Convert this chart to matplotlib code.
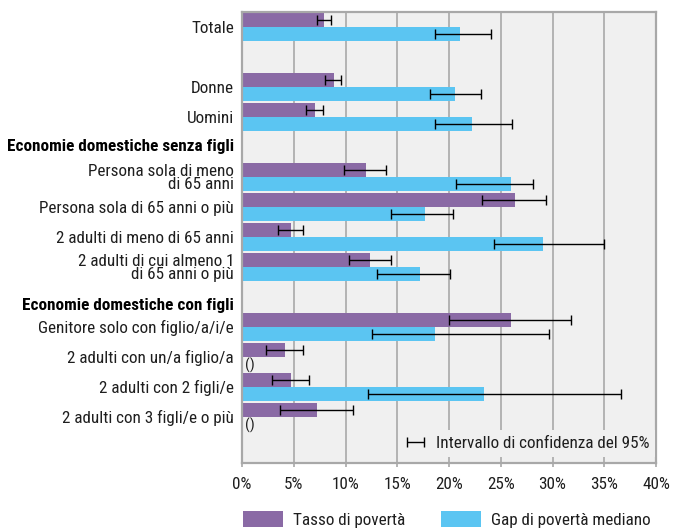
import numpy as np
import matplotlib
matplotlib.use("Agg")
import matplotlib.pyplot as plt
import matplotlib.transforms as mtransforms
from matplotlib import font_manager

# prefer a condensed face when one is installed
names = {f.name for f in font_manager.fontManager.ttflist}
family = [n for n in ["Roboto Condensed", "Liberation Sans Narrow", "Open Sans Condensed",
                      "Liberation Sans"] if n in names]
plt.rcParams['font.family'] = family + ['DejaVu Sans']

labels = ["Totale", "Donne", "Uomini",
          "Persona sola di meno\ndi 65 anni", "Persona sola di 65 anni o più",
          "2 adulti di meno di 65 anni", "2 adulti di cui almeno 1\ndi 65 anni o più",
          "Genitore solo con figlio/a/i/e", "2 adulti con un/a figlio/a",
          "2 adulti con 2 figli/e", "2 adulti con 3 figli/e o più"]
headers = ["Economie domestiche senza figli", "Economie domestiche con figli"]

tasso = [7.9, 8.9, 7.05, 12.0, 26.4, 4.7, 12.4, 26.0, 4.15, 4.7, 7.25]
tasso_lo = [7.2, 8.0, 6.2, 9.9, 23.2, 3.5, 10.3, 20.0, 2.3, 2.9, 3.7]
tasso_hi = [8.6, 9.6, 7.8, 13.9, 29.4, 5.9, 14.4, 31.8, 5.9, 6.5, 10.75]

gap = [21.1, 20.6, 22.2, 26.0, 17.7, 29.05, 17.2, 18.6, None, 23.4, None]
gap_lo = [18.6, 18.2, 18.6, 20.7, 14.4, 24.3, 13.0, 12.6, None, 12.2, None]
gap_hi = [24.1, 23.1, 26.1, 28.1, 20.4, 35.0, 20.1, 29.7, None, 36.6, None]

purple = "#8a6aa5"
blue = "#5bc5f2"
grid_col = "#a8a8a8"
txt_col = "#1e1e1e"
fs = 12.3

# row slots (1 slot = one pair of bars); gaps hold the section headers
slots = np.array([0, 2, 3, 5, 6, 7, 8, 10, 11, 12, 13])
header_y = [4.45, 9.75]
bh = 0.467
y_p = slots + bh / 2
y_b = slots + bh * 1.5

fig = plt.figure(figsize=(6.74, 5.29), dpi=100)
ax = fig.add_axes([242 / 674, 1 - 463 / 529, 414 / 674, 451 / 529])
ax.set_facecolor("#f0f0f0")

tasso = np.array(tasso, dtype=float)
gap_v = np.array([np.nan if v is None else v for v in gap])
gap_l = np.array([np.nan if v is None else v for v in gap_lo])
gap_h = np.array([np.nan if v is None else v for v in gap_hi])
ok = ~np.isnan(gap_v)

ax.barh(y_p, tasso, height=bh, color=purple, zorder=2, label="Tasso di povertà")
ax.barh(y_b[ok], gap_v[ok], height=bh, color=blue, zorder=2, label="Gap di povertà mediano")

ekw = dict(fmt="none", ecolor="black", elinewidth=1.0, capsize=3.5, capthick=1.0, zorder=3)
eb = ax.errorbar(tasso, y_p, xerr=[tasso - np.array(tasso_lo), np.array(tasso_hi) - tasso], **ekw)
ax.errorbar(gap_v[ok], y_b[ok], xerr=[gap_v[ok] - gap_l[ok], gap_h[ok] - gap_v[ok]], **ekw)

# missing values
for yy in y_b[~ok]:
    ax.text(0.3, yy + 0.05, "()", ha="left", va="center", fontsize=11, color=txt_col, zorder=4)

ax.set_xlim(0, 40)
ax.set_ylim(15.0, -1 / 30)
ax.set_xticks(np.arange(0, 41, 5))
ax.set_xticklabels([f"{v}%" for v in range(0, 41, 5)])
ax.set_yticks([])
ax.tick_params(axis="x", length=3, color=grid_col, width=1.2, labelsize=fs, labelcolor=txt_col, pad=7)
ax.grid(axis="x", color=grid_col, linewidth=1.2, zorder=1)
ax.set_axisbelow(True)
for s in ax.spines.values():
    s.set_color(grid_col)
    s.set_linewidth(1.6)

# row labels right-aligned left of the plot area
trans = mtransforms.blended_transform_factory(ax.transAxes, ax.transData)
lx = -8 / 414
for lab, sl in zip(labels, slots):
    ax.text(lx, sl + 0.5, lab, transform=trans, ha="right", va="center",
            fontsize=fs, color=txt_col, linespacing=0.85)
for h, hy in zip(headers, header_y):
    ax.text(lx, hy, h, transform=trans, ha="right", va="center",
            fontsize=fs, fontweight="bold", color="black")

# confidence interval key inside the plot
leg = ax.legend([eb], ["Intervallo di confidenza del 95%"], loc="lower right",
                bbox_to_anchor=(1.0, 0.012), frameon=True, facecolor="#f0f0f0",
                edgecolor="none", framealpha=1, fontsize=fs, handlelength=1.2,
                handletextpad=0.6, borderaxespad=0.05, borderpad=0.35, fancybox=False)
for t in leg.get_texts():
    t.set_color(txt_col)

# series key below the chart
handles, labs = ax.get_legend_handles_labels()
fleg = fig.legend(handles[:2], labs[:2], loc="lower left", bbox_to_anchor=(243 / 674, 1 / 529),
                  ncol=2, frameon=False, fontsize=fs, handlelength=2.34, handleheight=1.05,
                  handletextpad=0.58, columnspacing=2.1, borderpad=0, borderaxespad=0)
for t in fleg.get_texts():
    t.set_color(txt_col)

fig.savefig("out.png", dpi=100)
